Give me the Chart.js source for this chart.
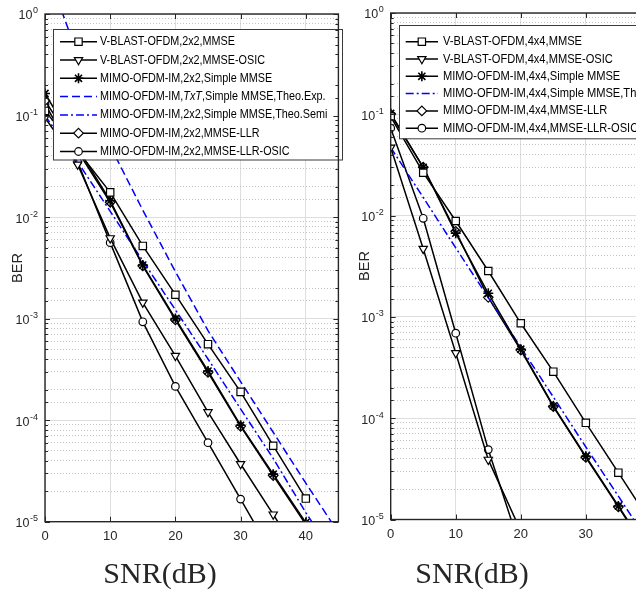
<!DOCTYPE html>
<html>
<head>
<meta charset="utf-8">
<script src="https://cdn.jsdelivr.net/npm/chart.js@4.4.1/dist/chart.umd.min.js"></script>
<style>
  html, body { margin: 0; padding: 0; background: #fff; }
  body { width: 636px; height: 590px; overflow: hidden; position: relative; }
  canvas { position: absolute; top: 0; background: #fff; }
  #chart2x2 { left: 0; }
  #chart4x4 { left: 345px; }
</style>
</head>
<body>
<canvas id="chart2x2" width="345" height="590"></canvas>
<canvas id="chart4x4" width="345" height="590"></canvas>
<script>
// SNR points (dB) and axis ticks
const snr = [0, 5, 10, 15, 20, 25, 30, 35, 40];
const snrTheo = [0, 5, 10, 15, 20, 25, 30, 35, 40, 45];
const xTicks = [0, 10, 20, 30, 40];
const yDecades = [-5, -4, -3, -2, -1, 0];

// 2x2 panel
const labels2x2 = [
    "V-BLAST-OFDM,2x2,MMSE",
    "V-BLAST-OFDM,2x2,MMSE-OSIC",
    "MIMO-OFDM-IM,2x2,Simple MMSE",
    "MIMO-OFDM-IM,TxT,Simple MMSE,Theo.Exp.",
    "MIMO-OFDM-IM,2x2,Simple MMSE,Theo.Semi",
    "MIMO-OFDM-IM,2x2,MMSE-LLR",
    "MIMO-OFDM-IM,2x2,MMSE-LLR-OSIC",
];
const vblastMmse2 = [0.111, 0.045, 0.0175, 0.0052, 0.00172, 5.6e-4, 1.9e-4, 5.6e-5, 1.69e-5];
const vblastOsic2 = [0.095, 0.033, 0.0062, 0.00144, 4.3e-4, 1.2e-4, 3.7e-5, 1.18e-5, 3.7e-6];
const simpleMmse2 = [0.165, 0.048, 0.0145, 0.00337, 1.0e-3, 3.05e-4, 8.9e-5, 2.94e-5, 9.8e-6];
const theoExp2 = [3.0, 0.4, 0.05, 0.0117, 2.9e-3, 7.6e-4, 2.4e-4, 7.6e-5, 2.4e-5, 7.8e-6];
const theoSemi2 = [0.1, 0.035, 0.0114, 3.7e-3, 1.22e-3, 4.0e-4, 1.29e-4, 4.2e-5, 1.23e-5, 4.0e-6];
const mmseLlr2 = [0.14, 0.045, 0.014, 0.0033, 9.7e-4, 2.95e-4, 8.7e-5, 2.85e-5, 9.4e-6];
const llrOsic2 = [0.13, 0.035, 0.0056, 9.3e-4, 2.15e-4, 6.0e-5, 1.67e-5, 4.6e-6, 1.3e-6];

// 4x4 panel
const labels4x4 = [
    "V-BLAST-OFDM,4x4,MMSE",
    "V-BLAST-OFDM,4x4,MMSE-OSIC",
    "MIMO-OFDM-IM,4x4,Simple MMSE",
    "MIMO-OFDM-IM,4x4,Simple MMSE,Theo.Semi",
    "MIMO-OFDM-IM,4x4,MMSE-LLR",
    "MIMO-OFDM-IM,4x4,MMSE-LLR-OSIC",
];
const vblastMmse4 = [0.095, 0.0265, 8.85e-3, 2.84e-3, 8.65e-4, 2.88e-4, 9.0e-5, 2.9e-5, 9.3e-6];
const vblastOsic4 = [0.047, 4.7e-3, 4.4e-4, 3.9e-5, 7.7e-6, null, null, null, null];
const simpleMmse4 = [0.102, 0.030, 6.7e-3, 1.71e-3, 4.8e-4, 1.32e-4, 4.2e-5, 1.36e-5, 4.4e-6];
const theoSemi4 = [0.047, 0.0151, 4.8e-3, 1.55e-3, 5.0e-4, 1.62e-4, 5.2e-5, 1.7e-5, 5.5e-6, 1.8e-6];
const mmseLlr4 = [0.1, 0.03, 7.0e-3, 1.56e-3, 4.7e-4, 1.3e-4, 4.1e-5, 1.33e-5, 4.3e-6];
const llrOsic4 = [0.073, 9.4e-3, 6.9e-4, 4.9e-5, 5.1e-6, null, null, null, null];

const sansFont = '"Liberation Sans", Arial, sans-serif';
const isDecade = (v) => Math.abs(Math.log10(v) - Math.round(Math.log10(v))) < 1e-6;

// marker shapes (MATLAB s, v, *, d, o)
const SQUARE = { style: "rect", r: 5.2 };
const TRI_DOWN = { style: "triangle", r: 4.8, rot: 180 };
const STAR = { style: "star", r: 5, bw: 1.6 };
const DIAMOND = { style: "rectRot", r: 4.8 };
const CIRCLE = { style: "circle", r: 3.8 };

const simLine = (label, x, y, m) => ({
    label,
    data: x.map((v, i) => ({ x: v, y: y[i] })),
    borderColor: "#000",
    borderWidth: 1.5,
    backgroundColor: "#fff",
    pointStyle: m.style,
    pointRadius: m.r,
    pointRotation: m.rot || 0,
    pointBackgroundColor: "#fff",
    pointBorderColor: "#000",
    pointBorderWidth: m.bw || 1.2,
    tension: 0,
});

const theoLine = (label, x, y, dash) => ({
    label,
    data: x.map((v, i) => ({ x: v, y: y[i] })),
    borderColor: "#0000ff",
    borderWidth: 1.5,
    borderDash: dash,
    pointRadius: 0,
    tension: 0,
});

// draws MATLAB-style box, inward ticks, 10^n labels, legend and axis titles
const matlabAxes = {
    id: "matlabAxes",
    afterDraw(chart, args, opts) {
        const { ctx, chartArea: a, scales } = chart;
        const x = scales.x, y = scales.y;
        ctx.save();

        // legend
        const lg = opts.legend;
        ctx.fillStyle = "#fff";
        ctx.fillRect(lg.left, lg.top, lg.right - lg.left, lg.bottom - lg.top);
        ctx.strokeStyle = "#3a3a3a";
        ctx.lineWidth = 1;
        ctx.strokeRect(lg.left + 0.5, lg.top + 0.5, lg.right - lg.left, lg.bottom - lg.top);
        ctx.save();
        ctx.beginPath();
        ctx.rect(lg.left, lg.top, lg.right - lg.left, lg.bottom - lg.top);
        ctx.clip();
        ctx.font = "13px " + sansFont;
        const sx = lg.textWidth / ctx.measureText(chart.data.datasets[0].label).width;
        chart.data.datasets.forEach((ds, i) => {
            const ry = lg.row0 + i * lg.rowStep;
            ctx.strokeStyle = ds.borderColor;
            ctx.lineWidth = ds.borderWidth;
            ctx.setLineDash(ds.borderDash || []);
            ctx.beginPath();
            ctx.moveTo(lg.line1, ry);
            ctx.lineTo(lg.line2, ry);
            ctx.stroke();
            ctx.setLineDash([]);
            if (ds.pointRadius > 0) {
                ctx.fillStyle = "#fff";
                ctx.strokeStyle = "#000";
                ctx.lineWidth = ds.pointBorderWidth;
                Chart.helpers.drawPoint(ctx, {
                    pointStyle: ds.pointStyle, radius: ds.pointRadius,
                    rotation: ds.pointRotation, borderWidth: ds.pointBorderWidth,
                }, (lg.line1 + lg.line2) / 2, ry);
            }
            ctx.save();
            ctx.translate(lg.textX, ry);
            ctx.scale(sx, 1);
            ctx.fillStyle = "#000";
            ctx.textBaseline = "middle";
            ctx.textAlign = "left";
            let tx = 0;
            ds.label.split(/(TxT)/).forEach((part) => {
                ctx.font = (part === "TxT" ? "italic " : "") + "13px " + sansFont;
                ctx.fillText(part, tx, 0);
                tx += ctx.measureText(part).width;
            });
            ctx.restore();
        });
        ctx.restore();

        // inward ticks
        ctx.strokeStyle = "#262626";
        ctx.lineWidth = 1;
        ctx.beginPath();
        xTicks.forEach((v) => {
            const px = Math.round(x.getPixelForValue(v)) + 0.5;
            ctx.moveTo(px, a.bottom); ctx.lineTo(px, a.bottom - 5);
            ctx.moveTo(px, a.top); ctx.lineTo(px, a.top + 5);
        });
        y.ticks.forEach((t) => {
            const py = Math.round(y.getPixelForValue(t.value)) + 0.5;
            const len = isDecade(t.value) ? 5 : 3;
            ctx.moveTo(a.left, py); ctx.lineTo(a.left + len, py);
            ctx.moveTo(a.right, py); ctx.lineTo(a.right - len, py);
        });
        ctx.stroke();
        ctx.lineWidth = 1.4;
        ctx.strokeRect(a.left, a.top, a.right - a.left, a.bottom - a.top);

        // y tick labels 10^n
        ctx.fillStyle = "#262626";
        ctx.textBaseline = "middle";
        ctx.textAlign = "left";
        yDecades.forEach((e) => {
            const py = y.getPixelForValue(Math.pow(10, e));
            const right = a.left - 7;
            ctx.font = "9px " + sansFont;
            const we = ctx.measureText(String(e)).width;
            ctx.fillText(String(e), right - we, py - 3);
            ctx.font = "12.5px " + sansFont;
            const w10 = ctx.measureText("10").width;
            ctx.fillText("10", right - we - 0.5 - w10, py + 2);
        });

        // axis titles
        ctx.textAlign = "center";
        ctx.textBaseline = "alphabetic";
        ctx.font = "30px \"Liberation Serif\", \"Times New Roman\", serif";
        ctx.fillText(opts.xTitle.text, opts.xTitle.x, opts.xTitle.y);
        ctx.save();
        ctx.translate(opts.yTitle.x, opts.yTitle.y);
        ctx.rotate(-Math.PI / 2);
        ctx.textBaseline = "middle";
        ctx.font = "14.5px " + sansFont;
        ctx.fillText(opts.yTitle.text, 0, 0);
        ctx.restore();

        ctx.restore();
    },
};

const makeChart = (id, datasets, p) => new Chart(document.getElementById(id), {
    type: "line",
    data: { datasets },
    options: {
        responsive: false,
        animation: false,
        layout: { padding: { top: p.top, right: p.padRight, left: 0, bottom: 0 } },
        plugins: {
            legend: { display: false },
            tooltip: { enabled: false },
            matlabAxes: { legend: p.legend, xTitle: p.xTitle, yTitle: p.yTitle },
        },
        scales: {
            x: {
                type: "linear",
                min: 0,
                max: 45,
                afterBuildTicks: (s) => { s.ticks = xTicks.map((v) => ({ value: v })); },
                afterFit: (s) => { s.height = p.xHeight; },
                grid: { color: "#dedede", drawTicks: false },
                border: { display: false },
                ticks: { padding: 7, color: "#262626", maxRotation: 0, font: { family: sansFont, size: 13 } },
            },
            y: {
                type: "logarithmic",
                min: 1e-5,
                max: 1,
                afterFit: (s) => { s.width = p.yWidth; },
                ticks: { display: false, autoSkip: false },
                grid: {
                    drawTicks: false,
                    color: (c) => (c.tick && isDecade(c.tick.value) ? "#dedede" : "#c4c4c4"),
                },
                border: {
                    display: false,
                    dash: (c) => (c.tick && !isDecade(c.tick.value) ? [1, 2] : []),
                },
            },
        },
    },
    plugins: [matlabAxes],
});

makeChart("chart2x2", [
    simLine(labels2x2[0], snr, vblastMmse2, SQUARE),
    simLine(labels2x2[1], snr, vblastOsic2, TRI_DOWN),
    simLine(labels2x2[2], snr, simpleMmse2, STAR),
    theoLine(labels2x2[3], snrTheo, theoExp2, [8, 4]),
    theoLine(labels2x2[4], snrTheo, theoSemi2, [8, 3, 2, 3]),
    simLine(labels2x2[5], snr, mmseLlr2, DIAMOND),
    simLine(labels2x2[6], snr, llrOsic2, CIRCLE),
], {
    top: 14, padRight: 2.3, yWidth: 45, xHeight: 68.3,
    legend: { left: 53, top: 29, bottom: 159.5, right: 342, row0: 41.7, rowStep: 18.3, line1: 60, line2: 97, textX: 100, textWidth: 135 },
    xTitle: { text: "SNR(dB)", x: 160, y: 583 },
    yTitle: { text: "BER", x: 18, y: 268 },
});

makeChart("chart4x4", [
    simLine(labels4x4[0], snr, vblastMmse4, SQUARE),
    simLine(labels4x4[1], snr, vblastOsic4, TRI_DOWN),
    simLine(labels4x4[2], snr, simpleMmse4, STAR),
    theoLine(labels4x4[3], snrTheo, theoSemi4, [8, 3, 2, 3]),
    simLine(labels4x4[4], snr, mmseLlr4, DIAMOND),
    simLine(labels4x4[5], snr, llrOsic4, CIRCLE),
], {
    top: 13, padRight: 1.6, yWidth: 45.7, xHeight: 70.5,
    legend: { left: 54, top: 25, bottom: 138.3, right: 400, row0: 41.7, rowStep: 17.3, line1: 60.7, line2: 93, textX: 98, textWidth: 139 },
    xTitle: { text: "SNR(dB)", x: 127, y: 583 },
    yTitle: { text: "BER", x: 20, y: 266 },
});
</script>
</body>
</html>
